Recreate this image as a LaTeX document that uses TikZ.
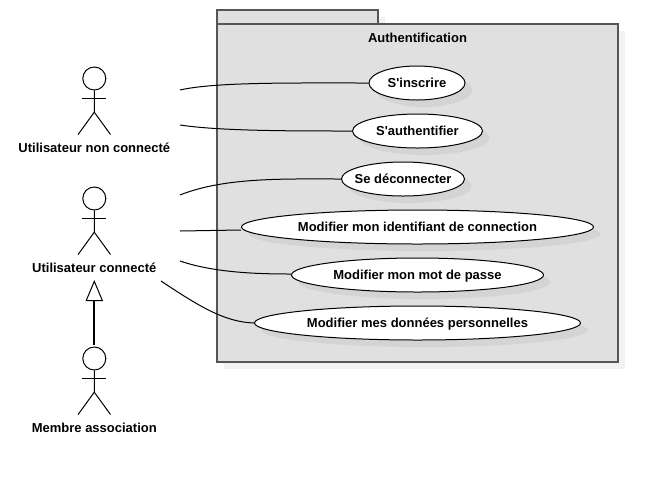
\documentclass[tikz,border=0pt]{standalone}
\usepackage{fontspec}
\newfontfamily\uifont{Liberation Sans}
\usetikzlibrary{shapes.geometric,arrows.meta,calc}
\definecolor{pkgfill}{HTML}{E0E0E0}
\definecolor{pkgline}{HTML}{555555}
\tikzset{
  px/.style={x=0.75pt,y=-0.75pt},
  lab/.style={font=\uifont\bfseries\fontsize{9.75pt}{11pt}\selectfont,text=black,inner sep=0pt,text height=7pt,text depth=0pt},
  usecase/.style={ellipse,draw=black,fill=white,line width=0.75pt,inner ysep=0pt,inner xsep=-20pt,minimum height=25.5pt,text height=7pt,text depth=0pt,font=\uifont\bfseries\fontsize{9.75pt}{11pt}\selectfont},
  shade7/.style={fill=black,fill opacity=0.05,draw=none},
  pkg/.style={fill=pkgfill,draw=pkgline,line width=1.1pt},
  limb/.style={draw=black,line width=0.75pt},
  head/.style={circle,draw=black,line width=0.75pt,minimum size=17.25pt,inner sep=0pt},
  conn/.style={draw=black,line width=0.75pt},
}
\begin{document}
\begin{tikzpicture}[px]
\useasboundingbox (0,0) rectangle (658,480);
% package
\fill[shade7] (224,17) rectangle (385,31);
\fill[shade7] (224,31) rectangle (625,369);
\draw[pkg] (217,10) rectangle (378,24);
\draw[pkg] (217,24) rectangle (618,362);
\node[lab] (title) at (417.5,37.5) {Authentification};
% use case shadows
\foreach \cx/\cy/\rx in {417/83/48,417.5/131/65,403/179/61.5,417.5/227/176,417.5/275/126,417.5/323/163}{
  \fill[shade7] (\cx+7,\cy+7) ellipse [x radius=\rx,y radius=17];
}
% use cases
\node[usecase,minimum width=72pt] (u1) at (417,83) {S'inscrire};
\node[usecase,minimum width=97.5pt] (u2) at (417.5,131) {S'authentifier};
\node[usecase,minimum width=92.25pt] (u3) at (403,179) {Se déconnecter};
\node[usecase,minimum width=264pt] (u4) at (417.5,227) {Modifier mon identifiant de connection};
\node[usecase,minimum width=189pt] (u5) at (417.5,275) {Modifier mon mot de passe};
\node[usecase,minimum width=244.5pt] (u6) at (417.5,323) {Modifier mes données personnelles};
% actors
\foreach \n/\y in {a/78.5,b/198.5,c/358.5}{
  \node[head] (\n) at (94.3,\y) {};
  \draw[limb] (\n.south) -- ++(0,21.7) coordinate (\n hip) -- ++(-16.2,22.3);
  \draw[limb] (\n hip) -- ++(16.2,22.3);
  \draw[limb] ($(\n.south)+(-12,7.7)$) -- ++(24,0);
}
\node[lab] (la) at (94.3,147.5) {Utilisateur non connecté};
\node[lab] (lb) at (94.3,267.5) {Utilisateur connecté};
\node[lab] (lc) at (94.3,427.5) {Membre association};
% free ends
\coordinate (e1) at (180,90);
\coordinate (e2) at (180,125);
\coordinate (e3) at (180,195);
\coordinate (e4) at (180,231);
\coordinate (e5) at (180,261);
\coordinate (e6) at (161,281);
\coordinate (tip) at (94.3,280);
% connectors
\draw[conn] (e1) .. controls (215,82) and (290,83) .. (u1.west);
\draw[conn] (e2) .. controls (220,131) and (290,131) .. (u2.west);
\draw[conn] (e3) .. controls (225,177) and (285,179) .. (u3.west);
\draw[conn] (e4) -- ($(u4.west)+(0,3)$);
\draw[conn] (e5) .. controls (215,273) and (260,274) .. ($(u5.west)+(0,-1)$);
\draw[conn] (e6) .. controls (200,307) and (225,322) .. (u6.west);
\draw[line width=1.5pt,draw=black,shorten <=1.5pt,-{Triangle[open,length=15.75pt,width=13pt,line width=0.75pt]}] (c.north) -- (tip);
\end{tikzpicture}
\end{document}
